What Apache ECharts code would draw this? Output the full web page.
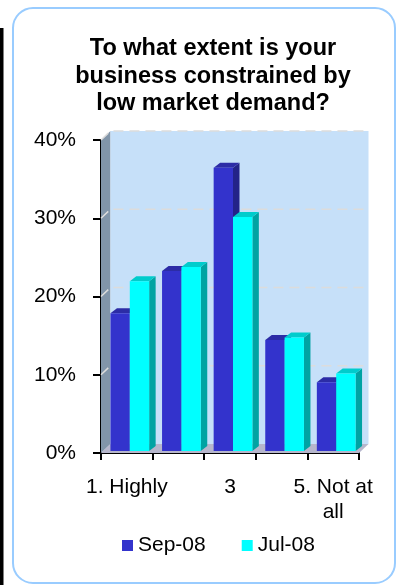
<!DOCTYPE html>
<html>
<head>
<meta charset="utf-8">
<script src="https://cdn.jsdelivr.net/npm/echarts@6/dist/echarts.min.js"></script>
<style>
html,body{margin:0;padding:0;background:#fff;}
#c{width:398px;height:585px;}
</style>
</head>
<body>
<div id="c"></div>
<script>
const titleText = "To what extent is your\nbusiness constrained by\nlow market demand?";
const categories = ["1. Highly", "2", "3", "4", "5. Not at\nall"];
const seriesNames = ["Sep-08", "Jul-08"];
const sep08 = [0.176, 0.230, 0.362, 0.142, 0.088];
const jul08 = [0.217, 0.235, 0.299, 0.145, 0.099];
const yTicks = [0, 0.1, 0.2, 0.3, 0.4];

const FONT = '"Liberation Sans", Arial, sans-serif';
const WALL_DX = 9.5, WALL_DY = -9;
const BAR_DX = 3, BAR_DY = -2;
const DEPTH_DX = 6.5, DEPTH_DY = -5;

const palettes = [
  { front: '#3333CC', top: '#2C2CA6', side: '#232388' },
  { front: '#00FFFF', top: '#00CCCC', side: '#00A3A3' }
];

function renderWalls(params, api) {
  const cs = params.coordSys;
  const L = cs.x, T = cs.y, R = cs.x + cs.width, B = cs.y + cs.height;
  const children = [
    { type: 'polygon', shape: { points: [[L, T], [L + WALL_DX, T + WALL_DY], [L + WALL_DX, B + WALL_DY], [L, B]] },
      style: { fill: '#8195A9' } },
    { type: 'rect', shape: { x: L + WALL_DX, y: T + WALL_DY, width: cs.width, height: cs.height },
      style: { fill: '#C6E0F9' } },
    { type: 'polygon', shape: { points: [[L, B], [R, B], [R + WALL_DX, B + WALL_DY], [L + WALL_DX, B + WALL_DY]] },
      style: { fill: '#B6B6CC' } }
  ];
  yTicks.forEach(function (v) {
    if (v === 0) return;
    const y = api.coord([0, v])[1];
    children.push({ type: 'polyline',
      shape: { points: [[L, y], [L + WALL_DX, y + WALL_DY], [R + WALL_DX, y + WALL_DY]] },
      style: { stroke: '#DCDCDC', lineWidth: 1.5, lineDash: [10, 6], fill: null } });
  });
  return { type: 'group', children: children };
}

function makeBarRenderer(k) {
  const pal = palettes[k];
  return function (params, api) {
    const i = api.value(0);
    const v = api.value(1);
    const top = api.coord([i, v]);
    const base = api.coord([i, 0]);
    const band = api.size([1, 0])[0];
    const w = band * 0.375;
    const cx = top[0] + BAR_DX;
    const x0 = k === 0 ? cx - w : cx;
    const x1 = x0 + w;
    const yt = top[1] + BAR_DY;
    const yb = base[1] + BAR_DY;
    return { type: 'group', children: [
      { type: 'polygon', shape: { points: [[x1, yt], [x1 + DEPTH_DX, yt + DEPTH_DY], [x1 + DEPTH_DX, yb + DEPTH_DY], [x1, yb]] },
        style: { fill: pal.side } },
      { type: 'polygon', shape: { points: [[x0, yt], [x1, yt], [x1 + DEPTH_DX, yt + DEPTH_DY], [x0 + DEPTH_DX, yt + DEPTH_DY]] },
        style: { fill: pal.top } },
      { type: 'rect', shape: { x: x0, y: yt, width: w, height: yb - yt },
        style: { fill: pal.front } }
    ] };
  };
}

const chart = echarts.init(document.getElementById('c'), null, { renderer: 'canvas' });
chart.setOption({
  animation: false,
  backgroundColor: '#fff',
  graphic: [
    { type: 'rect', shape: { x: 0, y: 28, width: 3.5, height: 560 }, style: { fill: '#000' } },
    { type: 'rect', shape: { x: 13, y: 8, width: 382, height: 575, r: 20 },
      style: { fill: 'none', stroke: '#99CCFF', lineWidth: 2 } }
  ],
  title: {
    text: titleText,
    left: 208, top: 30, textAlign: 'center',
    textStyle: { fontFamily: FONT, fontWeight: 'bold', fontSize: 23.5, lineHeight: 27.5, color: '#000' }
  },
  legend: {
    data: seriesNames,
    left: 122, top: 535, padding: 0,
    itemWidth: 11, itemHeight: 11, itemGap: 36,
    icon: 'rect',
    textStyle: { fontFamily: FONT, fontSize: 21, color: '#000' }
  },
  grid: { left: 101, top: 140, width: 258, height: 313, containLabel: false },
  xAxis: {
    type: 'category',
    data: categories,
    axisLine: { lineStyle: { color: '#000', width: 2 } },
    axisTick: { show: true, interval: 0, length: 7, lineStyle: { color: '#000', width: 2 } },
    axisLabel: { interval: 1, margin: 22, fontFamily: FONT, fontSize: 21, lineHeight: 25, color: '#000', align: 'center' },
    splitLine: { show: false }
  },
  yAxis: {
    type: 'value',
    min: yTicks[0], max: yTicks[yTicks.length - 1], interval: yTicks[1] - yTicks[0],
    axisLine: { show: true, lineStyle: { color: '#000', width: 2 } },
    axisTick: { show: true, length: 8, lineStyle: { color: '#000', width: 2 } },
    axisLabel: { margin: 25, fontFamily: FONT, fontSize: 21, color: '#000',
      formatter: function (v) { return Math.round(v * 100) + '%'; } },
    splitLine: { show: false }
  },
  series: [
    { type: 'custom', name: '_walls', silent: true, z: 1, clip: false,
      renderItem: renderWalls, data: [[0, 0]] },
    { type: 'custom', name: seriesNames[0], z: 2, clip: false,
      itemStyle: { color: palettes[0].front },
      renderItem: makeBarRenderer(0), data: sep08.map(function (v, i) { return [i, v]; }) },
    { type: 'custom', name: seriesNames[1], z: 3, clip: false,
      itemStyle: { color: palettes[1].front },
      renderItem: makeBarRenderer(1), data: jul08.map(function (v, i) { return [i, v]; }) }
  ]
});
</script>
</body>
</html>
